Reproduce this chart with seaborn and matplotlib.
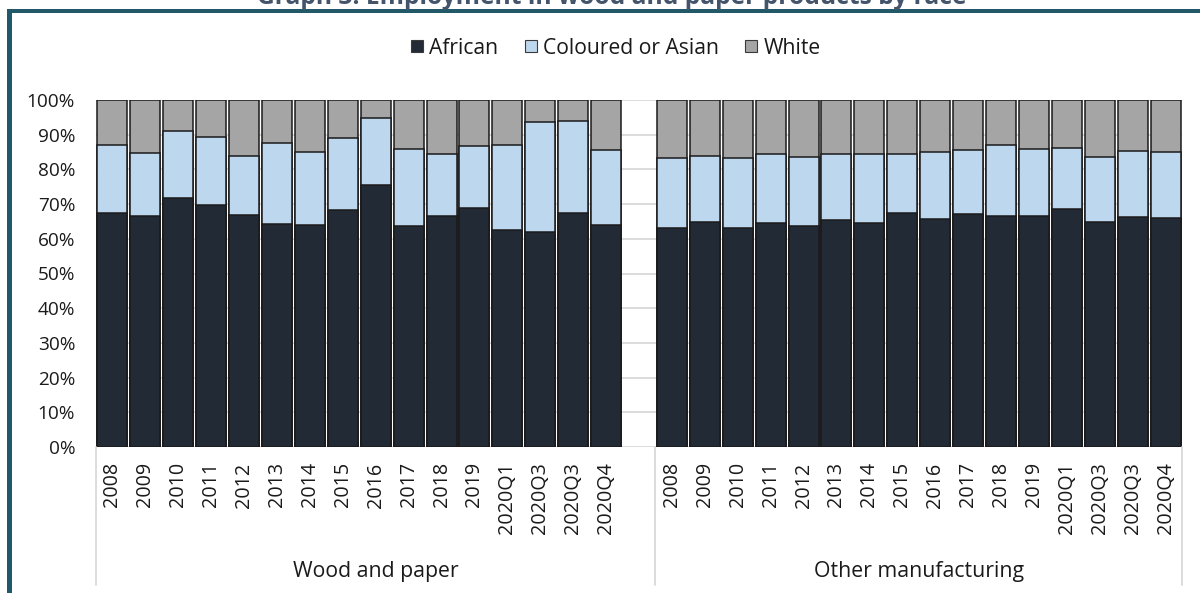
import numpy as np
import pandas as pd
import matplotlib
matplotlib.use("Agg")
import matplotlib.pyplot as plt
import matplotlib.transforms as mtransforms
from matplotlib.patches import Patch, Rectangle
import seaborn as sns

# ---- data (shares of employment, %) ----
periods = ["2008", "2009", "2010", "2011", "2012", "2013", "2014", "2015",
           "2016", "2017", "2018", "2019", "2020Q1", "2020Q3", "2020Q3", "2020Q4"]
groups = ["Wood and paper", "Other manufacturing"]
races = ["African", "Coloured or Asian", "White"]

wood_african = [67.3, 66.5, 71.8, 69.7, 66.9, 64.3, 64.1, 68.4,
                75.5, 63.8, 66.7, 68.9, 62.5, 62.1, 67.3, 64.1]
wood_coloured = [19.6, 18.2, 19.2, 19.6, 17.0, 23.4, 20.9, 20.6,
                 19.3, 22.2, 17.8, 17.9, 24.5, 31.5, 26.7, 21.5]
wood_white = [13.1, 15.3, 9.0, 10.7, 16.1, 12.3, 15.0, 11.0,
              5.2, 14.0, 15.5, 13.2, 13.0, 6.4, 6.0, 14.4]

other_african = [63.0, 64.8, 63.2, 64.6, 63.6, 65.4, 64.6, 67.3,
                 65.6, 67.1, 66.7, 66.7, 68.7, 64.8, 66.3, 66.0]
other_coloured = [20.3, 19.2, 20.0, 19.9, 20.1, 18.9, 19.9, 17.0,
                  19.4, 18.5, 20.2, 19.2, 17.4, 18.9, 19.1, 19.0]
other_white = [16.7, 16.0, 16.8, 15.5, 16.3, 15.7, 15.5, 15.7,
               15.0, 14.4, 13.1, 14.1, 13.9, 16.3, 14.6, 15.0]

colors = {"African": "#222A35", "Coloured or Asian": "#BDD7EE", "White": "#A5A5A5"}
title_text = "Graph 3: Employment in wood and paper products by race"

# ---- tidy frame with stacked (cumulative) heights ----
rows = []
for g, afr, col, wht in [(groups[0], wood_african, wood_coloured, wood_white),
                         (groups[1], other_african, other_coloured, other_white)]:
    for i, p in enumerate(periods):
        rows.append({"group": g, "period": p, "key": f"{g}|{i}",
                     "African": afr[i], "Coloured or Asian": col[i], "White": wht[i]})
df = pd.DataFrame(rows)
df["top_african"] = df["African"]
df["top_coloured"] = df["African"] + df["Coloured or Asian"]
df["top_white"] = df["top_coloured"] + df["White"]

wood_keys = [f"{groups[0]}|{i}" for i in range(len(periods))]
other_keys = [f"{groups[1]}|{i}" for i in range(len(periods))]
order = wood_keys + ["__blank__"] + other_keys

# ---- figure ----
sns.set_theme(style="white")
plt.rcParams["font.family"] = ["Open Sans", "DejaVu Sans"]

W, H = 1200, 593
fig = plt.figure(figsize=(W / 100, H / 100), dpi=100)
ax_left, ax_right, ax_top, ax_bot = 96, 1182, 100, 447
ax = fig.add_axes([ax_left / W, 1 - ax_bot / H, (ax_right - ax_left) / W, (ax_bot - ax_top) / H])

edge = "#1A1A1A"
for col, race in [("top_white", "White"), ("top_coloured", "Coloured or Asian"),
                  ("top_african", "African")]:
    sns.barplot(data=df, x="key", y=col, order=order, color=colors[race],
                saturation=1, width=0.91, edgecolor=edge, linewidth=1.1,
                errorbar=None, ax=ax)

ax.set_xlim(-0.5, len(order) - 0.5)
ax.set_ylim(0, 100)
ax.set_yticks(np.arange(0, 101, 10))
ax.set_yticklabels([f"{v}%" for v in range(0, 101, 10)], fontsize=13.7, color="#1A1A1A")
ax.yaxis.grid(True, color="#D9D9D9", linewidth=1.3)
ax.set_axisbelow(True)
for s in ax.spines.values():
    s.set_visible(False)

xpos = [i for i, k in enumerate(order) if k != "__blank__"]
xlab = [df.loc[df["key"] == k, "period"].iloc[0] for k in order if k != "__blank__"]
ax.set_xticks(xpos)
ax.set_xticklabels(xlab, rotation=90, fontsize=14.2, color="#1A1A1A", va="top")
ax.tick_params(axis="x", length=0, pad=11)
ax.tick_params(axis="y", length=0, pad=15)
ax.set_xlabel("")
ax.set_ylabel("")

# category-group separators and labels below the axis
trans = mtransforms.blended_transform_factory(ax.transData, ax.transAxes)
drop = -(585 - ax_bot) / (ax_bot - ax_top)
blank_pos = order.index("__blank__")
for xv in [-0.5, blank_pos + 0.5, len(order) - 0.5]:
    ax.plot([xv, xv], [0, drop], transform=trans, color="#D9D9D9",
            linewidth=1.3, clip_on=False)
lab_y = -(571 - ax_bot) / (ax_bot - ax_top)
ax.text((-0.5 + blank_pos + 0.5) / 2, lab_y, groups[0], transform=trans,
        ha="center", va="center", fontsize=15.3, color="#1A1A1A")
ax.text((blank_pos + 0.5 + len(order) - 0.5) / 2, lab_y, groups[1], transform=trans,
        ha="center", va="center", fontsize=15.3, color="#1A1A1A")

# legend
handles = [Patch(facecolor=colors[r], edgecolor="#3A3A3A", linewidth=0.8) for r in races]
fig.legend(handles, races, loc="center", bbox_to_anchor=(616 / W, 1 - 48 / H), ncol=3,
           frameon=False, fontsize=15.2, handlelength=0.56, handleheight=0.56,
           handletextpad=0.3, columnspacing=1.25, labelcolor="#1A1A1A")

# frame and title strip
frame_c = "#215968"
fig.add_artist(Rectangle((7 / W, 1 - 13 / H), 1 - 7 / W, 4 / H, transform=fig.transFigure,
                         facecolor=frame_c, edgecolor="none"))
fig.add_artist(Rectangle((7 / W, 0), 5 / W, 1 - 9 / H, transform=fig.transFigure,
                         facecolor=frame_c, edgecolor="none"))
fig.text(0.51, 1 - 4.5 / H, title_text, ha="center", va="baseline",
         fontsize=17.7, fontweight="bold", color="#44546A")

fig.savefig("out.png", dpi=100)
